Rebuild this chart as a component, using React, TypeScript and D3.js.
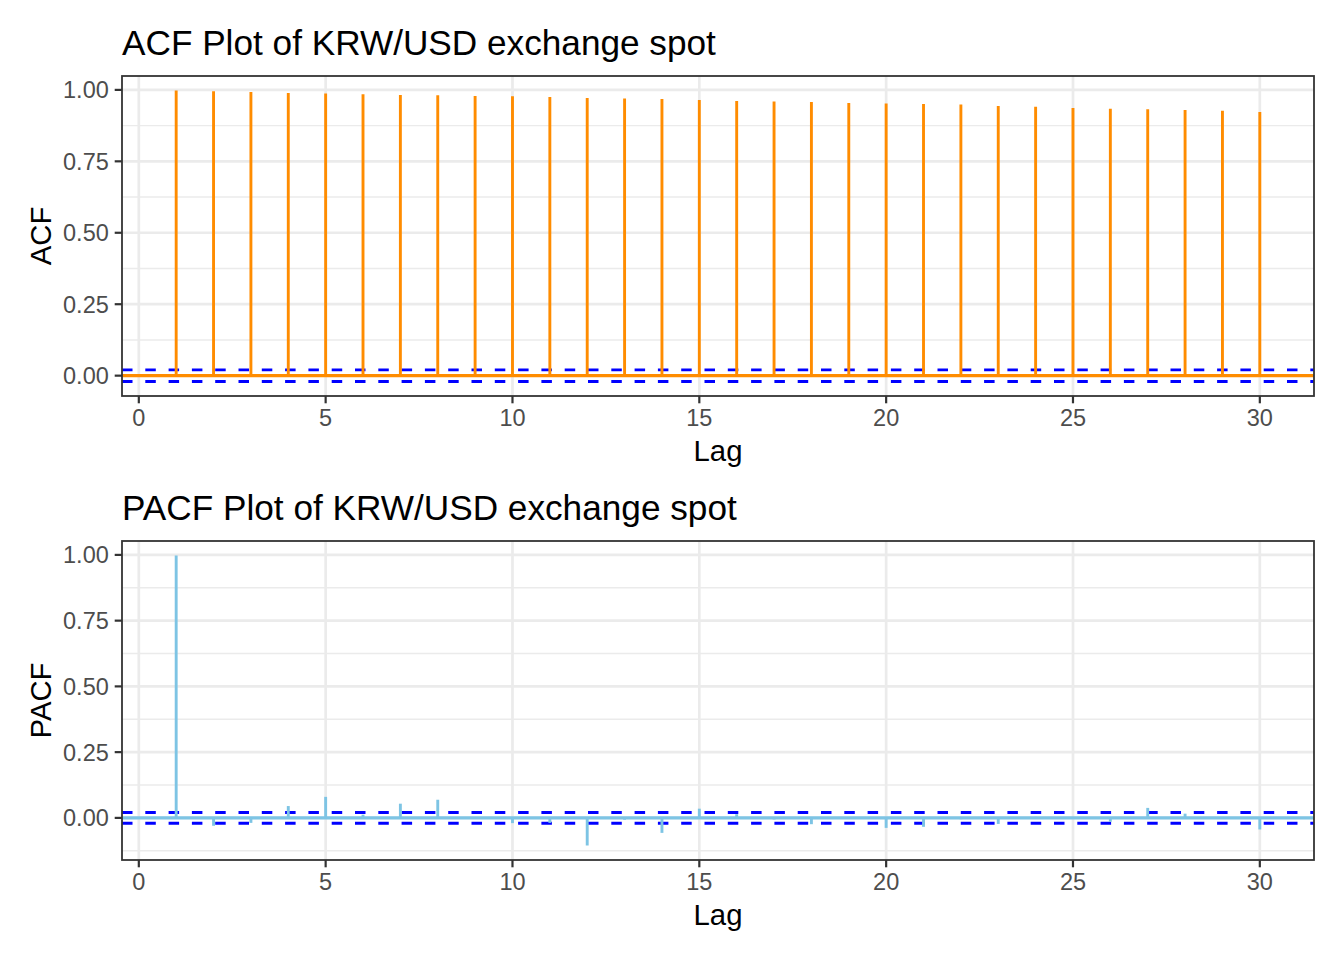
import React from "react";
import * as d3 from "d3";

const lags = Array.from({ length: 30 }, (_, i) => i + 1);
const acfValues = [
  0.9977, 0.9953, 0.993, 0.9895, 0.987, 0.985, 0.9825, 0.981, 0.979, 0.978,
  0.9755, 0.972, 0.97, 0.9685, 0.965, 0.9615, 0.959, 0.958, 0.9545, 0.952,
  0.951, 0.9487, 0.944, 0.9406, 0.937, 0.9336, 0.9324, 0.93, 0.9266, 0.923,
];
const pacfValues = [
  0.9977, -0.03, -0.019, 0.045, 0.08, 0.012, 0.054, 0.069, 0.003, -0.02,
  -0.019, -0.105, -0.007, -0.057, 0.035, 0.014, -0.006, -0.024, 0.002, -0.038,
  -0.034, -0.005, -0.023, 0.004, -0.003, -0.015, 0.038, 0.016, 0.002, -0.044,
];
const ciValue = 0.0203;
const xTicks = [0, 5, 10, 15, 20, 25, 30];
const yTicks = [0, 0.25, 0.5, 0.75, 1.0];
const yMinorTicks = [-0.125, 0.125, 0.375, 0.625, 0.875, 1.125];

const FONT = "'Liberation Sans', Arial, Helvetica, sans-serif";
const W = 1344;
const H = 960;
const PL = 122;
const PR = 1314;

type PanelProps = {
  title: string;
  yLabel: string;
  values: number[];
  color: string;
  top: number;
  bottom: number;
  titleY: number;
};

function Panel({ title, yLabel, values, color, top, bottom, titleY }: PanelProps) {
  const xData = d3.extent(lags) as [number, number];
  const xr = xData[1] - xData[0];
  const x = d3
    .scaleLinear()
    .domain([xData[0] - xr * 0.05, xData[1] + xr * 0.05])
    .range([PL, PR]);
  const yMin = Math.min(d3.min(values) as number, -ciValue);
  const yMax = Math.max(d3.max(values) as number, ciValue);
  const yr = yMax - yMin;
  const y = d3
    .scaleLinear()
    .domain([yMin - yr * 0.05, yMax + yr * 0.05])
    .range([bottom, top]);
  const [d0, d1] = y.domain();
  const minors = yMinorTicks.filter((t) => t > d0 && t < d1);
  const clipId = "clip-" + yLabel;
  return (
    <g>
      <text x={PL} y={titleY} fontSize={35.2} fontFamily={FONT} fill="#000">
        {title}
      </text>
      <defs>
        <clipPath id={clipId}>
          <rect x={PL} y={top} width={PR - PL} height={bottom - top} />
        </clipPath>
      </defs>
      <rect x={PL} y={top} width={PR - PL} height={bottom - top} fill="#fff" />
      <g clipPath={`url(#${clipId})`}>
        {minors.map((t) => (
          <line key={"mn" + t} x1={PL} x2={PR} y1={y(t)} y2={y(t)} stroke="#EBEBEB" strokeWidth={1.4} />
        ))}
        {yTicks.map((t) => (
          <line key={"my" + t} x1={PL} x2={PR} y1={y(t)} y2={y(t)} stroke="#EBEBEB" strokeWidth={2.7} />
        ))}
        {xTicks.map((t) => (
          <line key={"mx" + t} x1={x(t)} x2={x(t)} y1={top} y2={bottom} stroke="#EBEBEB" strokeWidth={2.7} />
        ))}
        {[ciValue, -ciValue].map((c) => (
          <line
            key={"ci" + c}
            x1={PL}
            x2={PR}
            y1={y(c)}
            y2={y(c)}
            stroke="#0000FF"
            strokeWidth={2.9}
            strokeDasharray="10.5,12.8"
          />
        ))}
        <line x1={PL} x2={PR} y1={y(0)} y2={y(0)} stroke={color} strokeWidth={3.4} />
        {lags.map((l, i) => (
          <line
            key={"b" + l}
            x1={x(l)}
            x2={x(l)}
            y1={y(0)}
            y2={y(values[i])}
            stroke={color}
            strokeWidth={2.9}
          />
        ))}
      </g>
      <rect x={PL} y={top} width={PR - PL} height={bottom - top} fill="none" stroke="#333333" strokeWidth={1.8} />
      {yTicks.map((t) => (
        <g key={"yt" + t}>
          <line x1={PL - 7.3} x2={PL} y1={y(t)} y2={y(t)} stroke="#333333" strokeWidth={2.2} />
          <text
            x={PL - 13.2}
            y={y(t) + 8.4}
            textAnchor="end"
            fontSize={23.5}
            fontFamily={FONT}
            fill="#4D4D4D"
          >
            {t.toFixed(2)}
          </text>
        </g>
      ))}
      {xTicks.map((t) => (
        <g key={"xt" + t}>
          <line x1={x(t)} x2={x(t)} y1={bottom} y2={bottom + 7.3} stroke="#333333" strokeWidth={2.2} />
          <text
            x={x(t)}
            y={bottom + 30}
            textAnchor="middle"
            fontSize={23.5}
            fontFamily={FONT}
            fill="#4D4D4D"
          >
            {t}
          </text>
        </g>
      ))}
      <text
        x={(PL + PR) / 2}
        y={bottom + 65}
        textAnchor="middle"
        fontSize={29.3}
        fontFamily={FONT}
        fill="#000"
      >
        Lag
      </text>
      <text
        transform={`translate(51, ${(top + bottom) / 2}) rotate(-90)`}
        textAnchor="middle"
        fontSize={29.3}
        fontFamily={FONT}
        fill="#000"
      >
        {yLabel}
      </text>
    </g>
  );
}

export default function App() {
  return (
    <svg
      width={W}
      height={H}
      style={{ position: "absolute", left: 0, top: 0, background: "#fff" }}
    >
      <rect x={0} y={0} width={W} height={H} fill="#fff" />
      <Panel
        title="ACF Plot of KRW/USD exchange spot"
        yLabel="ACF"
        values={acfValues}
        color="#FF8C00"
        top={76}
        bottom={396}
        titleY={55}
      />
      <Panel
        title="PACF Plot of KRW/USD exchange spot"
        yLabel="PACF"
        values={pacfValues}
        color="#7DC4E4"
        top={541}
        bottom={860}
        titleY={520}
      />
    </svg>
  );
}
